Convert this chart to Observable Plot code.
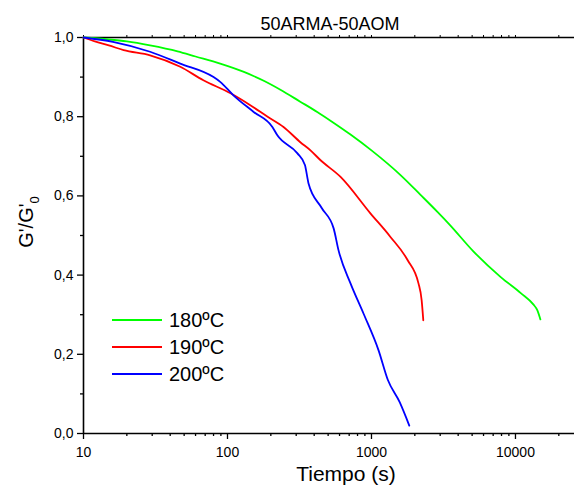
<!DOCTYPE html>
<html><head><meta charset="utf-8">
<script src="https://cdn.jsdelivr.net/npm/d3@7"></script>
<script src="https://cdn.jsdelivr.net/npm/@observablehq/plot@0.6"></script>
<style>
body{margin:0;background:#fff;font-family:"Liberation Sans",Arial,sans-serif}
#wrap{position:relative;width:574px;height:495px}
.leg{position:absolute;left:112px;font-size:20px;color:#000;display:flex;align-items:center;height:24px}
.leg span.ln{display:inline-block;width:50px;height:2px;margin-right:7px}
</style></head><body><div id="wrap"></div>
<script>
const title = "50ARMA-50AOM";
const xLabel = "Tiempo (s)";
const seriesNames = ["180ºC", "190ºC", "200ºC"];
const seriesColors = ["#00ff00", "#ff0000", "#0000ff"];

const t180 = [10, 15, 20, 29, 45, 60, 89, 130, 180, 233, 320, 420, 519, 715, 1000, 1598, 2200, 2883, 3497, 5100, 7900, 10940, 13300, 14200, 14900];
const g180 = [1.0, 0.995, 0.99, 0.98, 0.965, 0.952, 0.934, 0.913, 0.890, 0.868, 0.838, 0.812, 0.79, 0.755, 0.715, 0.652, 0.602, 0.559, 0.527, 0.46, 0.395, 0.354, 0.326, 0.311, 0.288];

const t190 = [10, 12, 15, 19, 29, 47, 68, 105, 144, 190, 245, 322, 377, 443, 610, 983, 1350, 1780, 2120, 2230, 2290];
const g190 = [1.0, 0.99, 0.98, 0.968, 0.955, 0.926, 0.892, 0.859, 0.829, 0.80, 0.774, 0.735, 0.715, 0.69, 0.648, 0.556, 0.497, 0.438, 0.379, 0.337, 0.286];

const t200 = [10, 16, 29, 47, 80, 89, 110, 152, 205, 222, 305, 345, 358, 365, 450, 546, 590, 715, 880, 1120, 1300, 1570, 1830];
const g200 = [1.0, 0.989, 0.964, 0.934, 0.90, 0.888, 0.854, 0.812, 0.774, 0.753, 0.708, 0.678, 0.648, 0.632, 0.57, 0.518, 0.463, 0.379, 0.303, 0.21, 0.135, 0.079, 0.02];

const xMajorTicks = [10, 100, 1000, 10000];
const xMinorTicks = [20,30,40,50,60,70,80,90,200,300,400,500,600,700,800,900,2000,3000,4000,5000,6000,7000,8000,9000,20000];
const yMajorTicks = [0, 0.2, 0.4, 0.6, 0.8, 1.0];
const yMinorTicks = [0.1, 0.3, 0.5, 0.7, 0.9];

const rows = [];
[[t180, g180], [t190, g190], [t200, g200]].forEach(([ts, gs], i) => {
  ts.forEach((t, j) => rows.push({s: seriesNames[i], t, g: gs[j]}));
});

const fmt = d => d.toFixed(1).replace(".", ",");
const font = "'Liberation Sans', Arial, sans-serif";

const plot = Plot.plot({
  width: 574, height: 495,
  marginLeft: 83, marginRight: 0, marginTop: 37, marginBottom: 62,
  style: {fontFamily: font, fontSize: "14px", background: "white", color: "black", overflow: "visible"},
  x: {type: "log", domain: [10, 25700]},
  y: {domain: [0, 1]},
  color: {domain: seriesNames, range: seriesColors},
  marks: [
    Plot.axisX({ticks: xMinorTicks, tickSize: 3, tickFormat: () => "", label: null, strokeWidth: 1.3}),
    Plot.axisX({ticks: xMajorTicks, tickSize: 6, tickPadding: 8, tickFormat: d => String(d), label: null, strokeWidth: 1.3}),
    Plot.axisX({anchor: "top", ticks: xMinorTicks.concat(xMajorTicks), tickSize: 3, tickFormat: () => "", label: null, strokeWidth: 1}),
    Plot.axisY({ticks: yMinorTicks, tickSize: 3, tickFormat: () => "", label: null, strokeWidth: 1.3}),
    Plot.axisY({ticks: yMajorTicks, tickSize: 6, tickPadding: 4, tickFormat: fmt, label: null, strokeWidth: 1.3}),
    Plot.ruleY([0], {strokeWidth: 1.6}),
    Plot.ruleY([1], {strokeWidth: 1.6}),
    Plot.ruleX([10], {strokeWidth: 1.6}),
    Plot.line(rows, {x: "t", y: "g", z: "s", stroke: "s", strokeWidth: 1.8, curve: "monotone-x"}),
    Plot.text([title], {frameAnchor: "top", dy: -20, dx: 1, fontSize: 18, fill: "black", text: d => d}),
    Plot.text([xLabel], {frameAnchor: "bottom", dy: 47, dx: 17, fontSize: 21, fill: "black", text: d => d})
  ]
});
document.getElementById("wrap").appendChild(plot);

// y-axis label with subscript
const svg = d3.select(plot);
const yl = svg.append("text")
  .attr("transform", "translate(33,222) rotate(-90)")
  .attr("text-anchor", "middle")
  .attr("font-family", font)
  .attr("font-size", 20)
  .attr("fill", "black");
yl.append("tspan").text("G'/G'");
yl.append("tspan").attr("font-size", 13).attr("dy", 6).text("0");

// legend
const wrap = document.getElementById("wrap");
seriesNames.forEach((n, i) => {
  const d = document.createElement("div");
  d.className = "leg";
  d.style.top = (308 + i * 27) + "px";
  d.innerHTML = `<span class="ln" style="background:${seriesColors[i]}"></span><span>${n}</span>`;
  wrap.appendChild(d);
});
</script>
</body></html>
